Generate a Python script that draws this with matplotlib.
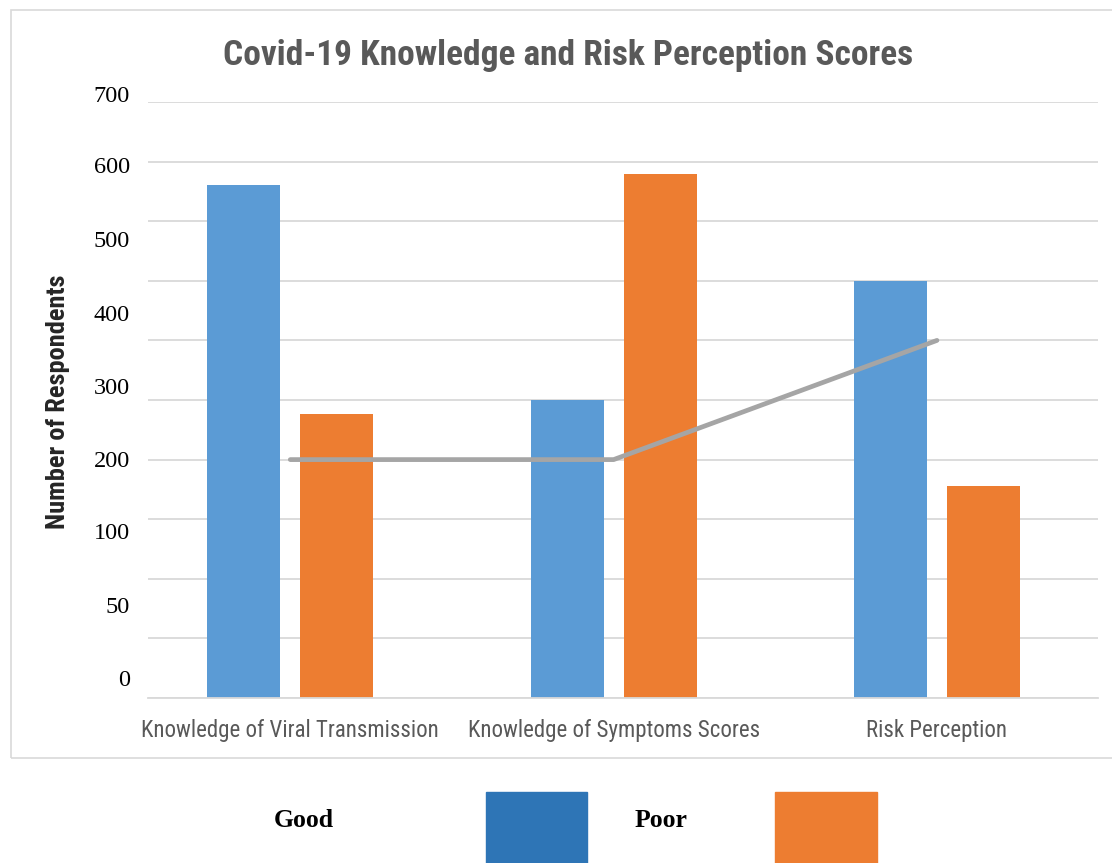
import matplotlib.pyplot as plt
import numpy as np
from matplotlib.patches import Rectangle
from matplotlib.transforms import blended_transform_factory

# scores per category
categories = ['Knowledge of Viral Transmission', 'Knowledge of Symptoms Scores', 'Risk Perception']
good = [430, 250, 350]
poor = [238, 440, 178]
trend = [200, 200, 300]

# printed axis labels (as they appear on the chart)
ytick_text = ['700', '600', '500', '400', '300', '200', '100', '50', '0']
ytick_pos = [505, 445, 383, 321, 260, 198, 138, 76, 15]

blue = '#5b9bd5'
orange = '#ed7d31'
grey_line = '#a5a5a5'
grid_col = '#d9d9d9'
narrow = ['Roboto Condensed', 'Roboto', 'DejaVu Sans']
serif = ['Liberation Serif', 'DejaVu Serif']

W, H = 1112, 863
fig = plt.figure(figsize=(W / 100, H / 100), dpi=100)
fig.patch.set_facecolor('white')

# outer chart frame
fig.patches.append(Rectangle((11 / W, 1 - 758 / H), 1.2, (758 - 10) / H,
                             transform=fig.transFigure, fill=False,
                             edgecolor=grid_col, linewidth=1.2))

ax = fig.add_axes([148 / W, 1 - 698 / H, (1098 - 148) / W, (698 - 102) / H])
x = np.arange(len(categories))
bw = 0.226
off = 0.144
ax.bar(x - off, good, bw, color=blue, zorder=2)
ax.bar(x + off, poor, bw, color=orange, zorder=2)
ax.plot(x, trend, color=grey_line, linewidth=3.4, solid_capstyle='round',
        solid_joinstyle='round', zorder=3)

ax.set_xlim(-0.44, 2.498)
ax.set_ylim(0, 500)
ax.set_yticks(np.arange(0, 501, 50))
ax.yaxis.grid(True, color=grid_col, linewidth=1.3, zorder=0)
ax.set_axisbelow(True)
ax.set_yticklabels([])
ax.tick_params(axis='y', length=0)
for s in ['top', 'right', 'left']:
    ax.spines[s].set_visible(False)
ax.spines['bottom'].set_color(grid_col)
ax.spines['bottom'].set_linewidth(1.3)

ax.set_xticks(x)
ax.set_xticklabels(categories, family=narrow, fontsize=16.5, color='#595959')
ax.tick_params(axis='x', length=0, pad=15)

tr = blended_transform_factory(ax.transAxes, ax.transData)
for t, p in zip(ytick_text, ytick_pos):
    ax.text(-18 / 950, p, t, transform=tr, ha='right', va='center',
            family=serif, fontsize=17.5, color='black', clip_on=False)

fig.text(58 / W, 1 - 402 / H, 'Number of Respondents', rotation=90,
         ha='center', va='center', family=narrow, fontsize=19,
         fontweight='bold', color='#262626')

fig.text(568 / W, 1 - 55 / H, 'Covid-19 Knowledge and Risk Perception Scores',
         ha='center', va='center', family=narrow, fontsize=25.5,
         fontweight='bold', color='#595959')

# legend row under the chart
fig.text(304 / W, 1 - 820 / H, 'Good', ha='center', va='center',
         family=serif, fontsize=18.5, fontweight='bold', color='black')
fig.text(661 / W, 1 - 820 / H, 'Poor', ha='center', va='center',
         family=serif, fontsize=18.5, fontweight='bold', color='black')
fig.patches.append(Rectangle((486 / W, 0), 101 / W, (863 - 792) / H,
                             transform=fig.transFigure, color='#2e75b6'))
fig.patches.append(Rectangle((775 / W, 0), 102 / W, (863 - 792) / H,
                             transform=fig.transFigure, color=orange))

fig.savefig('out.png', dpi=100)
